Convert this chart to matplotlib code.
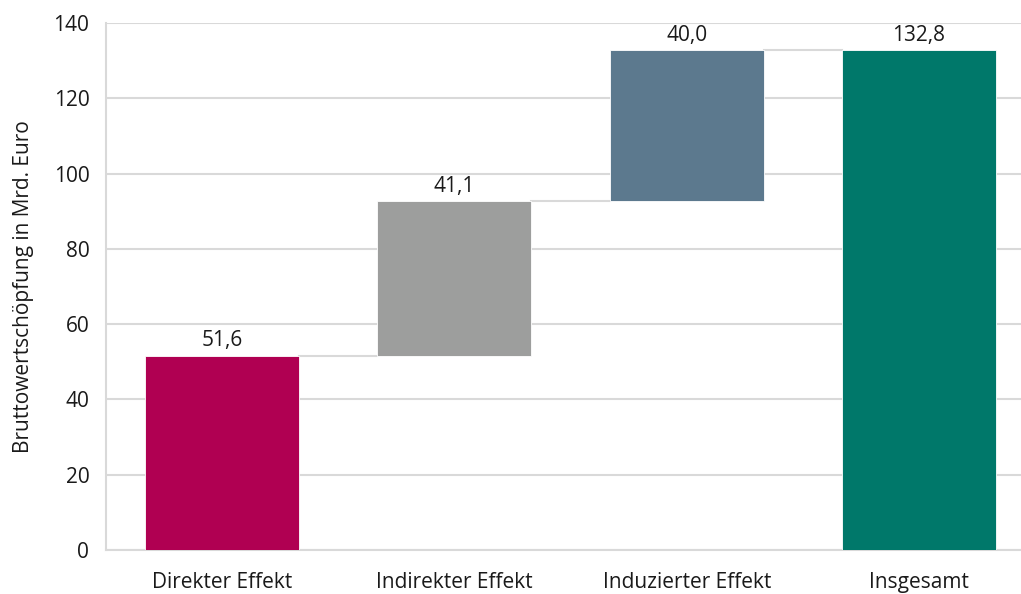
import matplotlib.pyplot as plt

# Daten
categories = ['Direkter Effekt', 'Indirekter Effekt', 'Induzierter Effekt', 'Insgesamt']
values = [51.6, 41.1, 40.0, 132.8]
labels = ['51,6', '41,1', '40,0', '132,8']
colors = ['#B00052', '#9D9E9D', '#5C798E', '#00786A']

plt.rcParams['font.family'] = ['Open Sans', 'DejaVu Sans']

fig = plt.figure(figsize=(10.21, 5.94), dpi=100)
ax = fig.add_axes([106 / 1021, 44 / 594, 915 / 1021, 527 / 594])

# Wasserfall: Startpunkte berechnen
bottoms = []
running = 0
for i, v in enumerate(values):
    if i == len(values) - 1:
        bottoms.append(0)
    else:
        bottoms.append(running)
        running += v

x = list(range(len(categories)))
width = 0.663
ax.bar(x, values, bottom=bottoms, width=width, color=colors,
       edgecolor='white', linewidth=0.6, zorder=3)

# Verbindungslinien
for i in range(len(values) - 1):
    level = bottoms[i] + values[i]
    ax.plot([i + width / 2, i + 1 - width / 2], [level, level],
            color='#D9D9D9', linewidth=1.5, zorder=2)

# Wertebeschriftung
for i, (v, b) in enumerate(zip(values, bottoms)):
    ax.text(i, b + v + 1.2, labels[i], ha='center', va='bottom',
            fontsize=15, color='#1a1a1a')

ax.set_xlim(-0.5, -0.5 + 915 / 232.3)
ax.set_ylim(0, 140)
ax.set_yticks(range(0, 141, 20))
ax.set_xticks(x)
ax.set_xticklabels(categories, fontsize=15, color='#1a1a1a')
ax.tick_params(axis='y', labelsize=15, colors='#1a1a1a', length=0, pad=12)
ax.tick_params(axis='x', length=0, pad=16)

ax.grid(axis='y', color='#D9D9D9', linewidth=1.5, zorder=0)
ax.set_axisbelow(True)
for side in ['top', 'right']:
    ax.spines[side].set_visible(False)
ax.spines['left'].set_color('#D9D9D9')
ax.spines['left'].set_linewidth(1.5)
ax.spines['bottom'].set_color('#D9D9D9')
ax.spines['bottom'].set_linewidth(1.5)

ax.set_ylabel('Bruttowertschöpfung in Mrd. Euro', fontsize=15, color='#1a1a1a')
ax.yaxis.set_label_coords(-72 / 915, 0.5)

fig.savefig('out.png', dpi=100)
